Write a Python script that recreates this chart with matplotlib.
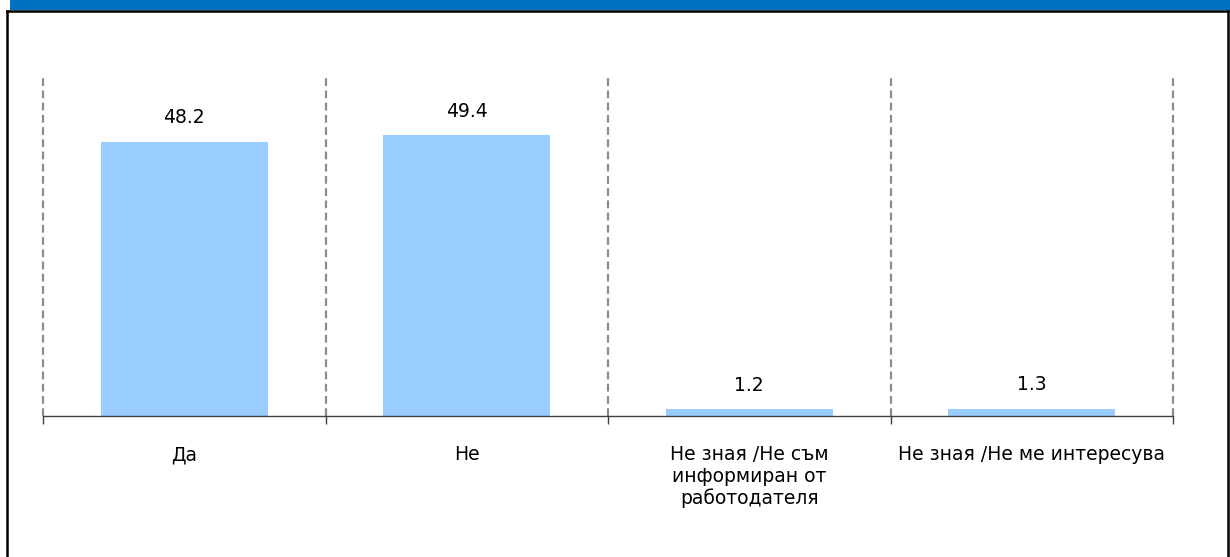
import matplotlib
matplotlib.use("Agg")
import matplotlib.pyplot as plt
from matplotlib.patches import Rectangle
from matplotlib.lines import Line2D
import numpy as np

categories = ["Да", "Не", "Не зная /Не съм\nинформиран от\nработодателя", "Не зная /Не ме интересува"]
values = [48.2, 49.4, 1.2, 1.3]
value_labels = ["48.2", "49.4", "1.2", "1.3"]

W, H = 1230, 557
fig = plt.figure(figsize=(W / 100, H / 100), dpi=100)
fig.patch.set_facecolor("white")

# header band and frame
fig.add_artist(Rectangle((10 / W, 1 - 10 / H), 1 - 10 / W, 10 / H, transform=fig.transFigure,
                         facecolor="#0070C0", edgecolor="none"))
fig.add_artist(Line2D([7 / W, 7 / W], [0, 1 - 11 / H], transform=fig.transFigure, color="black", lw=1.8))
fig.add_artist(Line2D([7 / W, 1228 / W], [1 - 11 / H, 1 - 11 / H], transform=fig.transFigure, color="black", lw=1.8))
fig.add_artist(Line2D([1228 / W, 1228 / W], [0, 1 - 11 / H], transform=fig.transFigure, color="black", lw=1.8))

ax = fig.add_axes([43 / W, 141 / H, 1130 / W, 341 / H])
x = np.arange(len(categories))
ax.bar(x, values, width=0.59, color="#99CCFF", zorder=2)
ax.set_xlim(-0.5, len(categories) - 0.5)
ax.set_ylim(0, 60)

bounds = np.arange(len(categories) + 1) - 0.5
ax.vlines(bounds, 0, 60, colors="#8C8C8C", linestyles=(0, (3.5, 2)), lw=1.6, zorder=1, clip_on=False)

for xi, v, lab in zip(x, values, value_labels):
    ax.annotate(lab, (xi, v), xytext=(0, 10.5), textcoords="offset points",
                ha="center", va="bottom", fontsize=13.5, color="black")

for s in ["top", "right", "left"]:
    ax.spines[s].set_visible(False)
ax.spines["bottom"].set_color("#404040")
ax.spines["bottom"].set_linewidth(1.0)
ax.set_yticks([])
ax.set_xticks(x)
ax.set_xticklabels(categories, fontsize=13.5, linespacing=1.17, va="top")
ax.tick_params(axis="x", which="major", length=0, pad=21)
ax.set_xticks(bounds, minor=True)
ax.tick_params(axis="x", which="minor", length=6, width=1.0, color="#404040", direction="out")

fig.savefig("out.png", dpi=100)
